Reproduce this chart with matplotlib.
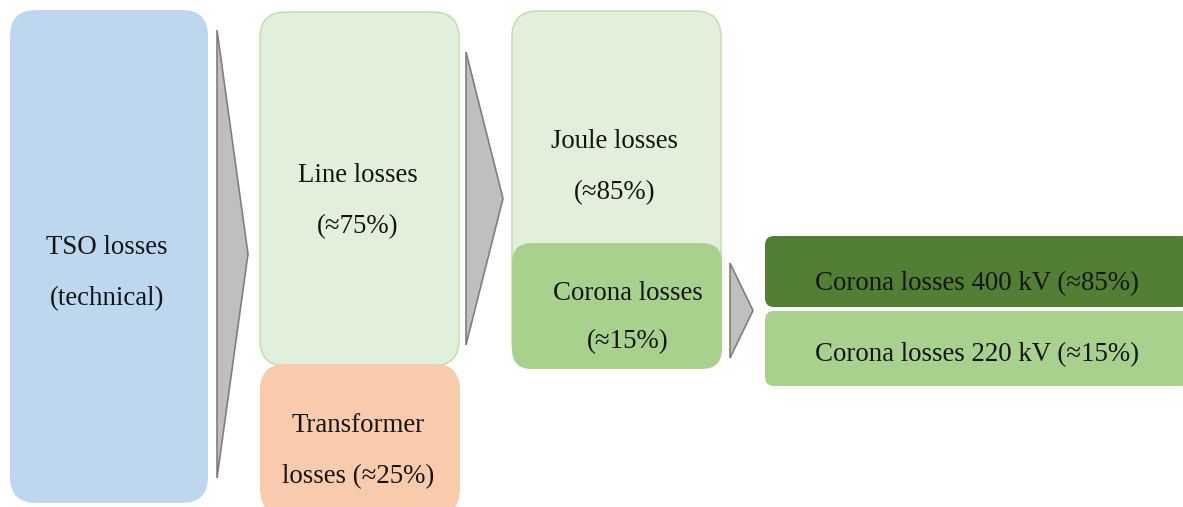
import matplotlib.pyplot as plt
from matplotlib.patches import FancyBboxPatch, Polygon

# box texts
box_labels = [
    "TSO losses\n(technical)",
    "Line losses\n(≈75%)",
    "Transformer\nlosses (≈25%)",
    "Joule losses\n(≈85%)",
    "Corona losses\n(≈15%)",
    "Corona losses 400 kV (≈85%)",
    "Corona losses 220 kV (≈15%)",
]

# layout in pixels: left, top, right, bottom, corner radius
box_rects = [
    (10, 10, 208, 503, 26),
    (260, 12, 459, 366, 26),
    (260, 364, 460, 515, 26),
    (512, 11, 721, 368, 26),
    (512, 243, 722, 369, 20),
    (765, 236, 1190, 307, 9),
    (765, 311, 1190, 386, 9),
]
box_faces = ["#BDD7EE", "#E2EFDA", "#F8CBAD", "#E2EFDA", "#A9D18E", "#527F33", "#A9D18E"]
box_edges = ["none", "#C5E0B4", "none", "#C5E0B4", "none", "none", "none"]
# text anchor (x, y of first line, y of second line)
text_pos = [
    (107, 247, 299),
    (358, 175, 227),
    (358, 425, 477),
    (615, 141, 193),
    (628, 293, 342),
    (977, 284, None),
    (977, 355, None),
]

# arrows: x of base, top, bottom, x of tip
arrows = [
    (217, 30, 478, 248),
    (466, 52, 345, 503),
    (730, 263, 358, 753),
]

fig = plt.figure(figsize=(11.83, 5.07), dpi=100)
ax = fig.add_axes([0, 0, 1, 1])
ax.set_xlim(0, 1183)
ax.set_ylim(507, 0)
ax.axis("off")

for (l, t, r, b, rad), fc, ec in zip(box_rects, box_faces, box_edges):
    p = FancyBboxPatch((l, t), r - l, b - t,
                       boxstyle=f"round,pad=0,rounding_size={rad}",
                       facecolor=fc, edgecolor=ec, linewidth=1.2)
    ax.add_patch(p)

for x0, top, bot, tip in arrows:
    ax.add_patch(Polygon([(x0, top), (tip, (top + bot) / 2), (x0, bot)],
                         closed=True, facecolor="#BFBFBF", edgecolor="#7F7F7F", linewidth=1.2))

for label, (x, y1, y2) in zip(box_labels, text_pos):
    lines = label.split("\n")
    ax.text(x, y1, lines[0], ha="center", va="center", fontsize=19.4,
            family="Liberation Serif", color="#141414")
    if y2 is not None:
        ax.text(x, y2, lines[1], ha="center", va="center", fontsize=19.4,
                family="Liberation Serif", color="#141414")

fig.savefig("out.png", dpi=100)
